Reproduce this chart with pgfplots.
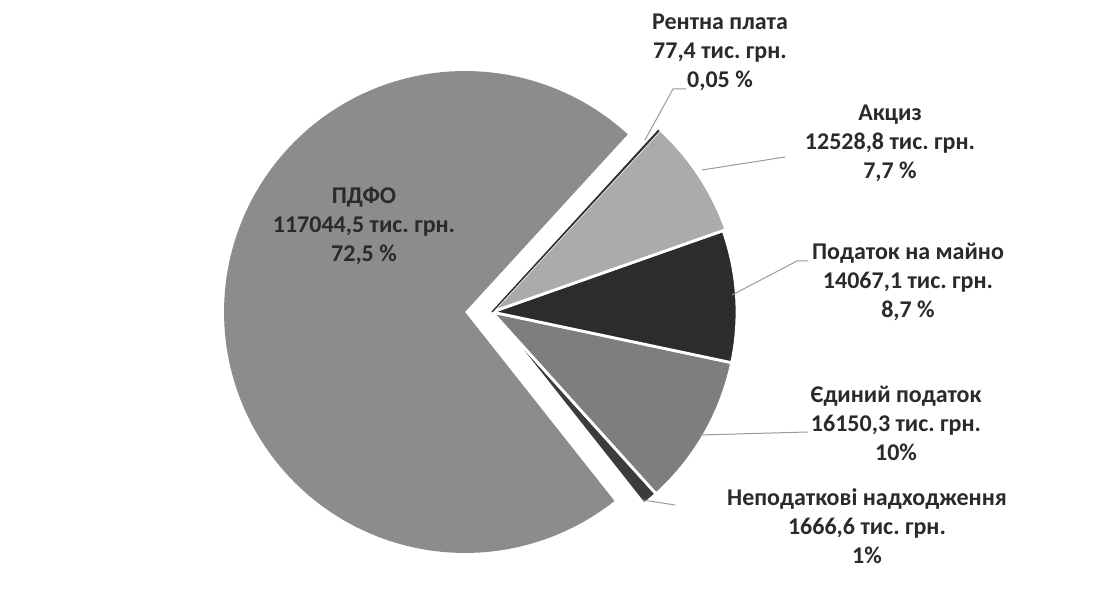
\documentclass[border=0pt]{standalone}
\usepackage{fontspec}
\setmainfont{Carlito}
\usepackage{pgfplots}
\pgfplotsset{compat=1.18}
\usepackage{pgfplotstable}

% values, in the counter-clockwise order of the slices (thousand UAH)
\pgfplotstableread{
value
117044.5
1666.6
16150.3
14067.1
12528.8
77.4
}\pietable

\definecolor{cPDFO}{HTML}{8C8C8C}
\definecolor{cNep}{HTML}{3C3C3C}
\definecolor{cYed}{HTML}{7E7E7E}
\definecolor{cMaj}{HTML}{2C2C2C}
\definecolor{cAkc}{HTML}{ABABAB}
\definecolor{cRen}{HTML}{303030}
\definecolor{cTxt}{HTML}{2A2A2A}
\definecolor{cLead}{HTML}{9A9A9A}

\tikzset{lbl/.style={font=\frenchspacing\fontsize{12}{14.5}\selectfont\bfseries, text=cTxt, align=center, inner sep=0pt}}

\pgfplotstablegetelem{0}{value}\of\pietable\let\vA\pgfplotsretval
\pgfplotstablegetelem{1}{value}\of\pietable\let\vB\pgfplotsretval
\pgfplotstablegetelem{2}{value}\of\pietable\let\vC\pgfplotsretval
\pgfplotstablegetelem{3}{value}\of\pietable\let\vD\pgfplotsretval
\pgfplotstablegetelem{4}{value}\of\pietable\let\vE\pgfplotsretval
\pgfplotstablegetelem{5}{value}\of\pietable\let\vF\pgfplotsretval
\edef\tot{\fpeval{\vA+\vB+\vC+\vD+\vE+\vF}}
\def\aA{47.5}
\edef\aB{\fpeval{\aA+360*\vA/\tot}}
\edef\aC{\fpeval{\aB+360*\vB/\tot}}
\edef\aD{\fpeval{\aC+360*\vC/\tot}}
\edef\aE{\fpeval{\aD+360*\vD/\tot}}
\edef\aF{\fpeval{\aE+360*\vE/\tot}}
\edef\aG{\fpeval{\aF+360*\vF/\tot}}

\begin{document}%
\frenchspacing%
\begin{tikzpicture}
\begin{axis}[
  scale only axis, width=550pt, height=294.5pt,
  xmin=0, xmax=1100, ymin=0, ymax=589,
  hide axis, ticks=none, clip=false,
]
% ПДФО (exploded)
\addplot[fill=cPDFO, draw=none, domain=\aA:\aB, samples=120, variable=\t]
  ({465+241*cos(\t)}, {277+241*sin(\t)}) -- (axis cs:465,277) -- cycle;
% other slices
\addplot[fill=cNep, draw=white, line width=1.4pt, domain=\aB:\aC, samples=10, variable=\t]
  ({492+245*cos(\t)}, {277+245*sin(\t)}) -- (axis cs:492,277) -- cycle;
\addplot[fill=cYed, draw=white, line width=1.4pt, domain=\aC:\aD, samples=40, variable=\t]
  ({492+245*cos(\t)}, {277+245*sin(\t)}) -- (axis cs:492,277) -- cycle;
\addplot[fill=cMaj, draw=white, line width=1.4pt, domain=\aD:\aE, samples=40, variable=\t]
  ({492+245*cos(\t)}, {277+245*sin(\t)}) -- (axis cs:492,277) -- cycle;
\addplot[fill=cAkc, draw=white, line width=1.4pt, domain=\aE:\aF, samples=40, variable=\t]
  ({492+248*cos(\t)}, {277+248*sin(\t)}) -- (axis cs:492,277) -- cycle;
\addplot[fill=cRen, draw=cRen, line width=0.7pt, domain=\aF:\aG, samples=2, variable=\t]
  ({492+246*cos(\t)}, {277+246*sin(\t)}) -- (axis cs:492,277) -- cycle;
% leader lines
\addplot[cLead, line width=0.5pt] coordinates {(645,449) (673,500) (686,500)};
\addplot[cLead, line width=0.5pt] coordinates {(702,419) (785,432)};
\addplot[cLead, line width=0.5pt] coordinates {(732,294) (797,328) (808,328)};
\addplot[cLead, line width=0.5pt] coordinates {(700,154) (808,157)};
\addplot[cLead, line width=0.5pt] coordinates {(643,89) (675,84)};
% labels
\node[lbl] at (axis cs:364,363) {ПДФО\\117044,5 тис. грн.\\72,5 \%};
\node[lbl] at (axis cs:720,537) {Рентна плата\\77,4 тис. грн.\\0,05 \%};
\node[lbl] at (axis cs:890,446) {Акциз\\12528,8 тис. грн.\\7,7 \%};
\node[lbl] at (axis cs:908,307) {Податок на майно\\14067,1 тис. грн.\\8,7 \%};
\node[lbl] at (axis cs:896,166) {Єдиний податок\\16150,3 тис. грн.\\10\%};
\node[lbl] at (axis cs:867,63) {Неподаткові надходження\\1666,6 тис. грн.\\1\%};
\end{axis}
\pgfresetboundingbox
\useasboundingbox (0,0) rectangle (550pt,294.5pt);
\end{tikzpicture}%
\end{document}
